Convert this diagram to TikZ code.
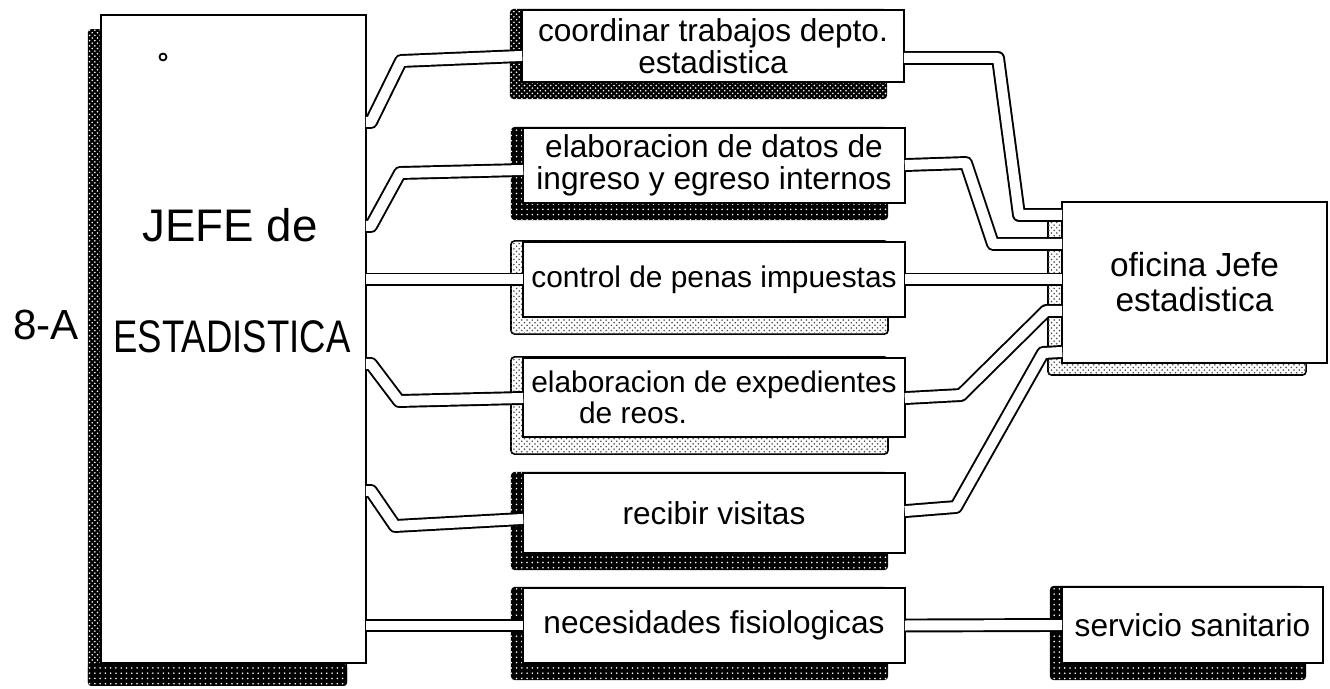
\documentclass[tikz,border=0pt]{standalone}
\usepackage{fontspec}
\setmainfont{Liberation Sans}
\usetikzlibrary{positioning,backgrounds,patterns}

\tikzset{
  plan/.style={draw,line width=1.2pt,fill=white,inner sep=2pt,align=center},
  task/.style={plan,minimum width=7.64cm,minimum height=1.5cm,font=\fontsize{18}{18}\selectfont},
  corridor/.style={draw=black,line width=1.1pt,double=white,double distance=0.2cm,line join=round,shorten <=-0.7pt,shorten >=-0.7pt},
  stripdark/.style={fill=black,rounded corners=2pt,postaction={pattern=dots,pattern color=white}},
  stripmid/.style={fill=black,rounded corners=2pt,postaction={pattern=crosshatch dots,pattern color=white}},
  striplight/.style={draw=black,line width=0.9pt,fill=white,rounded corners=2pt,postaction={pattern=crosshatch dots,pattern color=black!70}}
}

\begin{document}
\begin{tikzpicture}[x=0.02cm,y=-0.02cm]
\useasboundingbox (0,0) rectangle (1330,689);
% rooms
\node[plan,minimum width=5.3cm,minimum height=12.96cm] (jefe) at (233.5,339) {};
\node[task,minimum height=1.44cm] (coord) at (713,46) {coordinar trabajos depto.\\estadistica};
\node[task] (datos) at (714,165.5) {elaboracion de datos de\\ingreso y egreso internos};
\node[task,font=\fontsize{17}{17.5}\selectfont] (penas) at (714,279.5) {control de penas impuestas};
\node[task,minimum height=1.58cm,align=left,font=\fontsize{17}{18}\selectfont] (exped) at (714,397.5) {elaboracion de expedientes\\\hspace*{1.6em}de reos.};
\node[task,minimum height=1.6cm] (visitas) at (714,513) {recibir visitas};
\node[task] (fisio) at (714,625.5) {necesidades fisiologicas};
\node[plan,minimum width=5.3cm,minimum height=3.22cm,font=\fontsize{19}{20}\selectfont] (oficina) at (1194.5,282.5) {oficina Jefe\\estadistica};
\node[plan,minimum width=5.22cm,minimum height=1.52cm,font=\fontsize{18}{20}\selectfont] (sanitario) at (1192.5,625) {servicio sanitario};
% texts
\node[font=\fontsize{26}{28}\selectfont] (jefeA) at (230,225) {JEFE de};
\node[font=\fontsize{26}{28}\selectfont] (jefeB) at (232,337) {\scalebox{0.8}[1]{ESTADISTICA}};
\node[font=\fontsize{24}{26}\selectfont] (tag) at (46,325) {8-A};
\draw[line width=1pt] (163,57) circle[radius=0.07cm];
% shadows
\begin{scope}[on background layer]
\path[stripmid] ([xshift=-0.24cm,yshift=-0.3cm]jefe.north west) rectangle ([xshift=-0.4cm,yshift=-0.44cm]jefe.south east);
\path[stripdark] ([xshift=-0.24cm]jefe.south west) rectangle ([xshift=-0.4cm,yshift=-0.44cm]jefe.south east);
\foreach \n/\s in {coord/stripmid,datos/stripdark,penas/striplight,exped/striplight,visitas/stripdark,fisio/stripdark,sanitario/stripdark}
  \path[\s] ([xshift=-0.22cm]\n.north west) rectangle ([xshift=-0.36cm,yshift=-0.32cm]\n.south east);
\path[striplight] ([xshift=-0.26cm,yshift=-0.26cm]oficina.north west) rectangle ([xshift=-0.44cm,yshift=-0.22cm]oficina.south east);
\end{scope}
% corridors
\draw[corridor] (jefe.east |- 0,122) -- ++(4,0) -- (401,61) -- (coord.west |- 0,56);
\draw[corridor] (jefe.east |- 0,226) -- ++(4,0) -- (400,173) -- (datos.west |- 0,170);
\draw[corridor] (jefe.east |- penas.west) -- (penas.west);
\draw[corridor] (jefe.east |- 0,364) -- ++(4,0) -- (399,401) -- (exped.west |- 0,398);
\draw[corridor] (jefe.east |- 0,491) -- ++(4,0) -- (395,526) -- (visitas.west |- 0,519);
\draw[corridor] (jefe.east |- fisio.west) -- (fisio.west);
\draw[corridor] (coord.east |- 0,58) -- (998,58) -- (1019,215) -- (oficina.west |- 0,215);
\draw[corridor] (datos.east |- 0,165) -- (966,163) -- (993,244) -- (oficina.west |- 0,244);
\draw[corridor] (penas.east) -- (oficina.west |- penas.east);
\draw[corridor] (exped.east |- 0,398) -- (961,395) -- (1046,311) -- (oficina.west |- 0,311);
\draw[corridor] (visitas.east |- 0,511) -- (956,507) -- (1043,353) -- (oficina.west |- 0,352);
\draw[corridor] (fisio.east) -- (sanitario.west);
\end{tikzpicture}
\end{document}
